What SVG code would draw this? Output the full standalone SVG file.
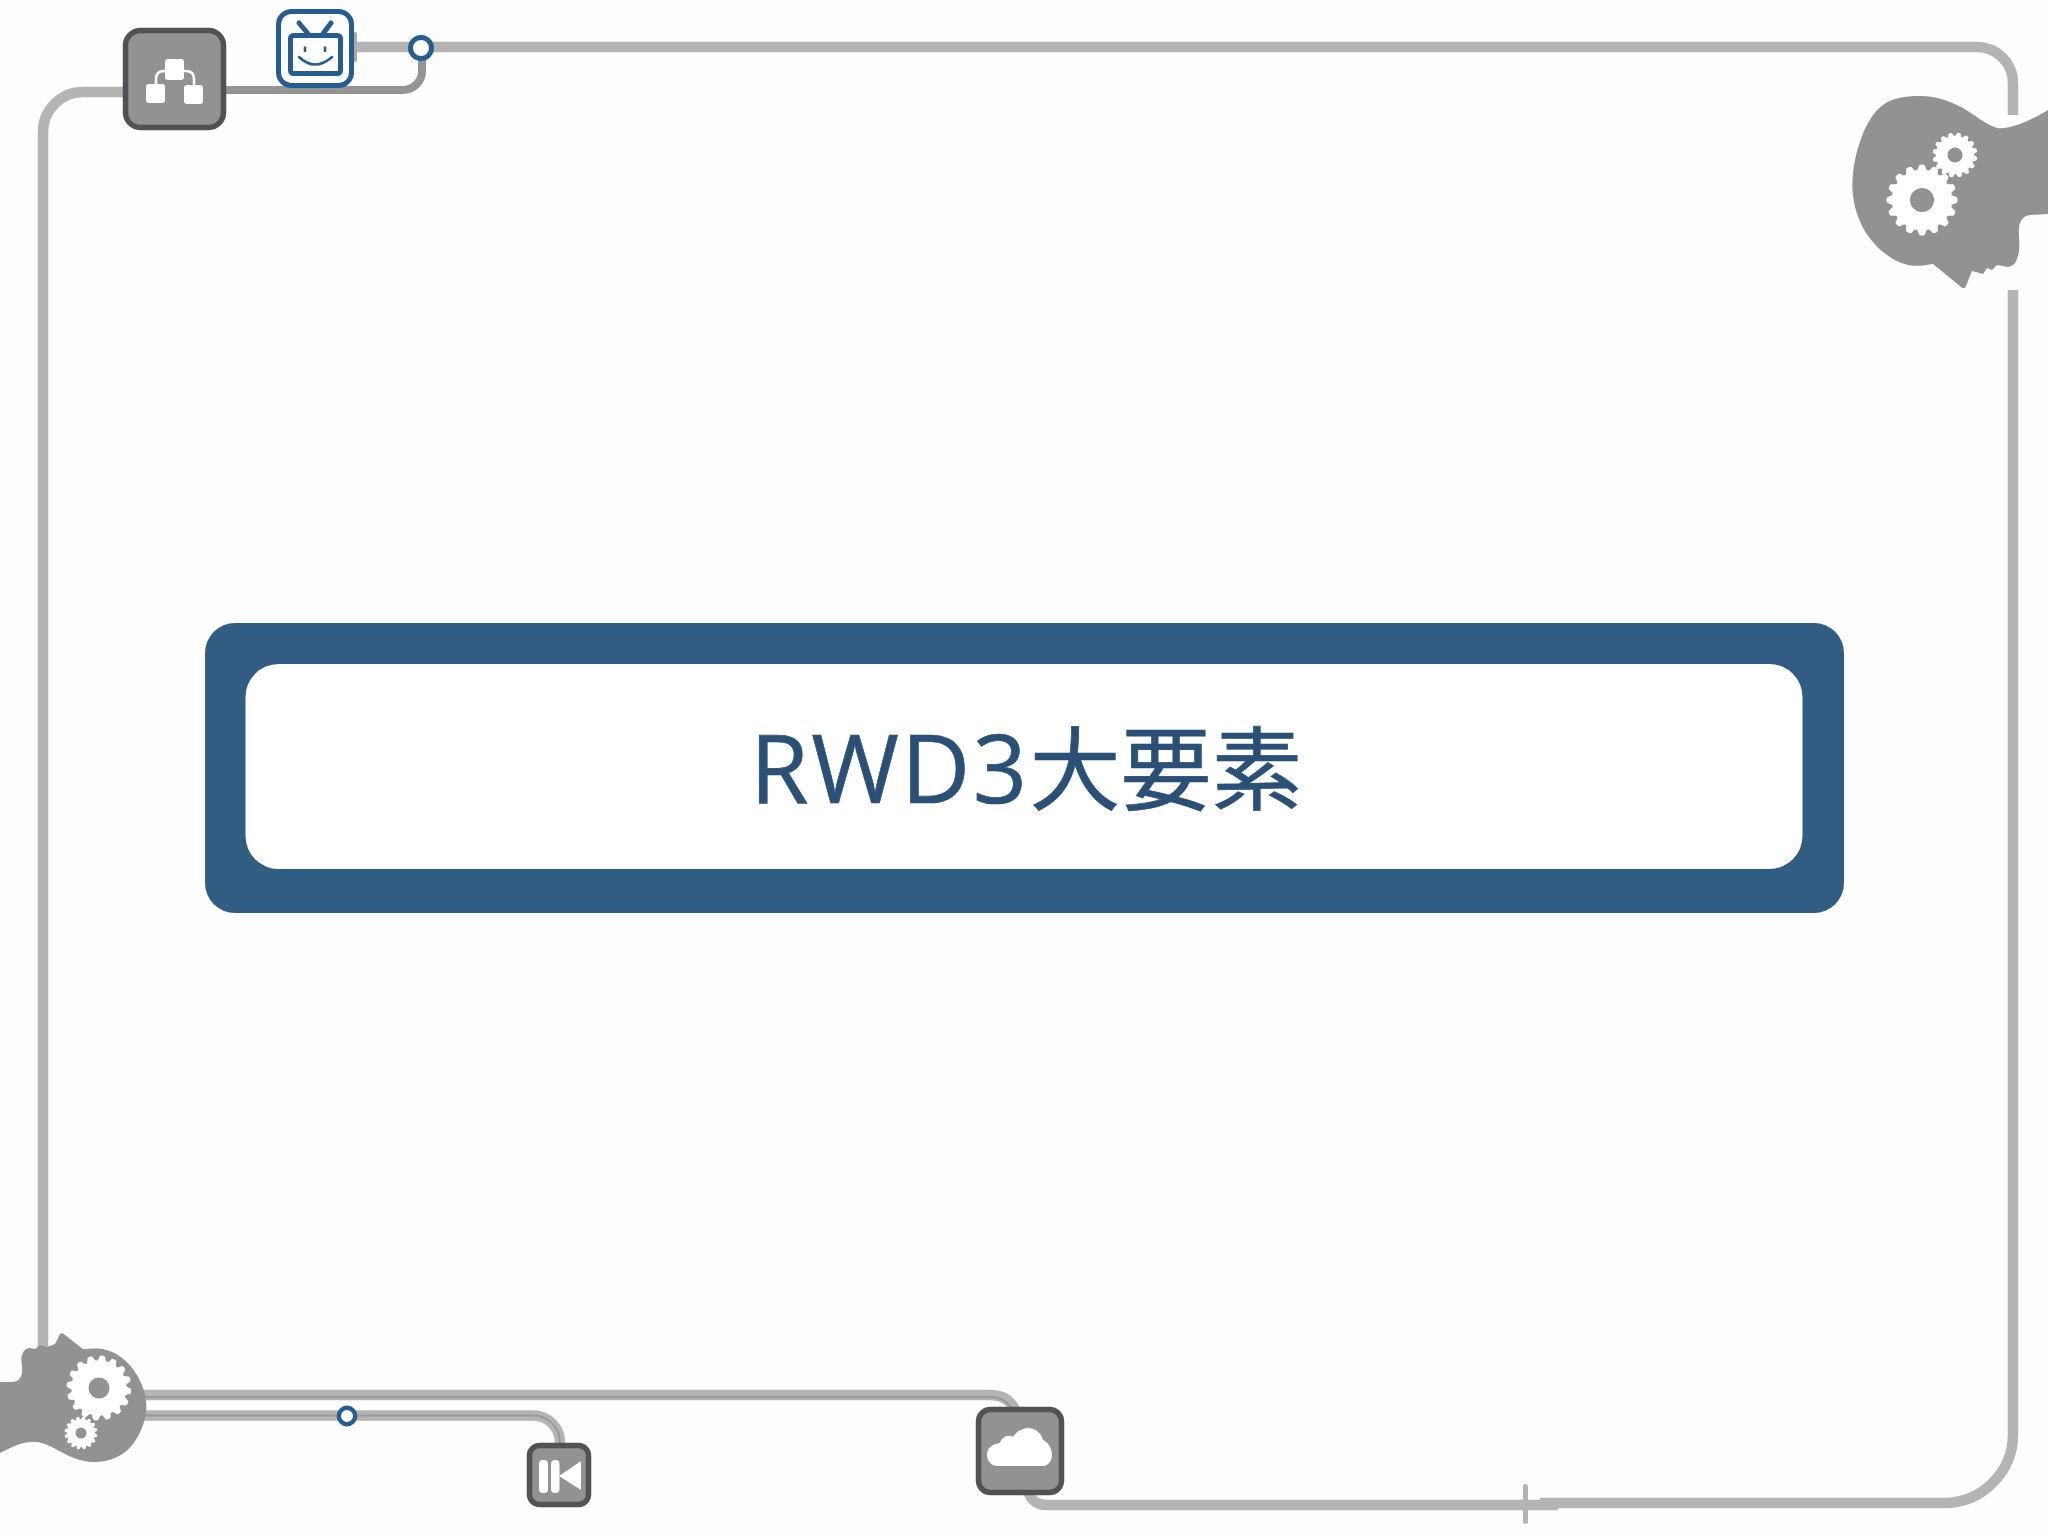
<svg xmlns="http://www.w3.org/2000/svg" width="2048" height="1536" viewBox="0 0 2048 1536">
<style>
.ln{fill:none;stroke:#b4b5b3;stroke-width:10.5}
.ln2{fill:none;stroke:#9a9a9a;stroke-width:2}
.head{fill:#929293}
.box{fill:#929292;stroke:#525254;stroke-width:5.5}
.w{fill:#fff}
.ws{fill:none;stroke:#fff;stroke-width:2.5}
.blue{fill:none;stroke:#245d92}
.rc{fill:#fff;stroke:#245d92}
</style>
<defs>
<path id="tooth" d="M-.14 -.82L-.075 -.985Q0 -1.02 .075 -.985L.14 -.82Z"/>
<g id="gear" fill="#fff">
<circle r=".85"/>
<use href="#tooth"/>
<use href="#tooth" transform="rotate(22.5)"/>
<use href="#tooth" transform="rotate(45)"/>
<use href="#tooth" transform="rotate(67.5)"/>
<use href="#tooth" transform="rotate(90)"/>
<use href="#tooth" transform="rotate(112.5)"/>
<use href="#tooth" transform="rotate(135)"/>
<use href="#tooth" transform="rotate(157.5)"/>
<use href="#tooth" transform="rotate(180)"/>
<use href="#tooth" transform="rotate(202.5)"/>
<use href="#tooth" transform="rotate(225)"/>
<use href="#tooth" transform="rotate(247.5)"/>
<use href="#tooth" transform="rotate(270)"/>
<use href="#tooth" transform="rotate(292.5)"/>
<use href="#tooth" transform="rotate(315)"/>
<use href="#tooth" transform="rotate(337.5)"/>
</g>
</defs>
<rect width="2048" height="1536" fill="#fefefe"/>
<g id="connectors">
<path class="ln" d="M2013 115V83A36 36 0 0 0 1977 47H356"/>
<path class="ln" d="M2013 290V1434A69 69 0 0 1 1944 1503H1540"/>
<path class="ln" d="M1027 1488C1030 1500 1036 1505 1047 1505H1558"/>
<rect x="1523" y="1484" width="5" height="40" rx="2.5" fill="#b4b5b3"/>
<path class="ln" d="M43 1352V132A40 40 0 0 1 83 92H125"/>
<path d="M226 90H403A19 19 0 0 0 422 71V55" fill="none" stroke="#949494" stroke-width="8"/>
<rect x="353" y="32" width="4" height="30" rx="2" fill="#a9a9a9"/>
<path class="ln" d="M130 1395H990C1004 1395 1012 1402 1016 1412"/>
<path class="ln2" d="M130 1397H990C1002 1397 1009 1403 1013 1411"/>
<path class="ln" d="M130 1415.500H533A27 27 0 0 1 560 1442.500V1446"/>
<path class="ln2" d="M130 1415.500H533A27 27 0 0 1 560 1442.500V1446"/>
<circle class="rc" cx="421" cy="48" r="10.500" stroke-width="5"/>
<circle class="rc" cx="347" cy="1416" r="8.200" stroke-width="4.400"/>
</g>
<g id="title-panel">
<rect x="205" y="623" width="1639" height="290" rx="30" fill="#325d83"/>
<rect x="245.500" y="664" width="1557" height="205" rx="33" fill="#fff"/>
<text x="750" y="803" fill="#2a5078" stroke="#2a5078" stroke-width=".7" font-family="'Open Sans','Noto Sans',sans-serif" font-size="95" letter-spacing="2.500">RWD3<tspan font-family="'Noto Sans CJK JP','Noto Sans CJK SC',sans-serif" font-size="91" letter-spacing="0">大要素</tspan></text>
</g>
<g id="node-hierarchy">
<rect class="box" x="125.500" y="30.500" width="98" height="97" rx="15"/>
<path class="ws" d="M156 86V79Q156 71 164 71H186Q194 71 194 79V86"/>
<rect class="w" x="165" y="59" width="19" height="21" rx="3"/>
<rect class="w" x="146" y="84" width="19" height="19" rx="3"/>
<rect class="w" x="184" y="85" width="19" height="19" rx="3"/>
</g>
<g id="node-tv">
<rect x="278.500" y="11.500" width="73" height="74" rx="13" fill="#fff" stroke="#245d92" stroke-width="5"/>
<rect class="blue" x="290.500" y="35.500" width="50" height="38" rx="3" stroke-width="5"/>
<path class="blue" stroke-width="5" stroke-linecap="round" d="M299 23L309 35M331 23L322 35"/>
<path class="blue" stroke-width="2.500" d="M305 46.500V52M325 46.500V52"/>
<path class="blue" stroke-width="2.500" stroke-linecap="round" d="M299 57Q315 72 332 57"/>
</g>
<g id="node-head-top">
<path class="head" d="M2048 110C2033 119 2012 130 1997 128C1985 124 1975 115 1963 108C1948 100 1935 96 1920 96C1905 96 1892 98 1883 105C1868 116 1860 138 1855 160C1850 185 1852 205 1862 226C1872 245 1890 261 1908 265C1918 267 1926 265 1933 264L1961 287Q1965 290 1966 286L1972 271L1983 274L1987 268L1992 270L1997 265L2008 267Q2015 267 2018 256C2021 245 2018 235 2019 227C2020 220 2024 215 2031 215L2048 214Z"/>
<use href="#gear" transform="translate(1922 200) scale(35.500)"/>
<circle class="head" cx="1922" cy="200" r="12"/>
<use href="#gear" transform="translate(1955 155) rotate(10) scale(22.500)"/>
<circle class="head" cx="1955" cy="155" r="7.500"/>
</g>
<g id="node-head-bottom">
<path class="head" d="M0 1382H12Q20 1382 22 1373C23 1365 20 1360 22 1355Q24 1348 30 1348L35 1349L40 1345L47 1347L55 1344L60 1334Q62 1332 65 1335L83 1349C90 1349 95 1348 102 1349C122 1352 136 1370 142 1385C148 1400 148 1415 141 1430C134 1447 122 1458 105 1461C90 1464 78 1460 67 1455C55 1449 45 1442 35 1442C22 1441 10 1448 0 1453Z"/>
<use href="#gear" transform="translate(99 1388) rotate(6) scale(32.500)"/>
<circle class="head" cx="99" cy="1388" r="10.500"/>
<use href="#gear" transform="translate(81 1433) rotate(10) scale(16.500)"/>
<circle class="head" cx="81" cy="1433" r="5.500"/>
</g>
<g id="node-skip">
<rect class="box" x="529.500" y="1445.500" width="59" height="59" rx="10"/>
<rect class="w" x="539" y="1460" width="9" height="33" rx="4"/>
<rect class="w" x="551" y="1460" width="8.500" height="33" rx="4"/>
<path class="w" d="M581 1461L559 1476L581 1490Z"/>
</g>
<g id="node-cloud">
<rect class="box" x="978.500" y="1409.500" width="83" height="83" rx="12"/>
<path class="w" d="M998 1466C991 1466 987 1461 987 1455C987 1449 991 1444 1000 1443C1001 1439 1006 1435 1010 1436C1011 1436 1012 1436 1013 1437C1016 1432 1022 1428 1028 1428C1036 1428 1041 1433 1043 1440C1048 1442 1052 1448 1052 1455C1052 1461 1048 1466 1043 1466Z"/>
</g>
</svg>
